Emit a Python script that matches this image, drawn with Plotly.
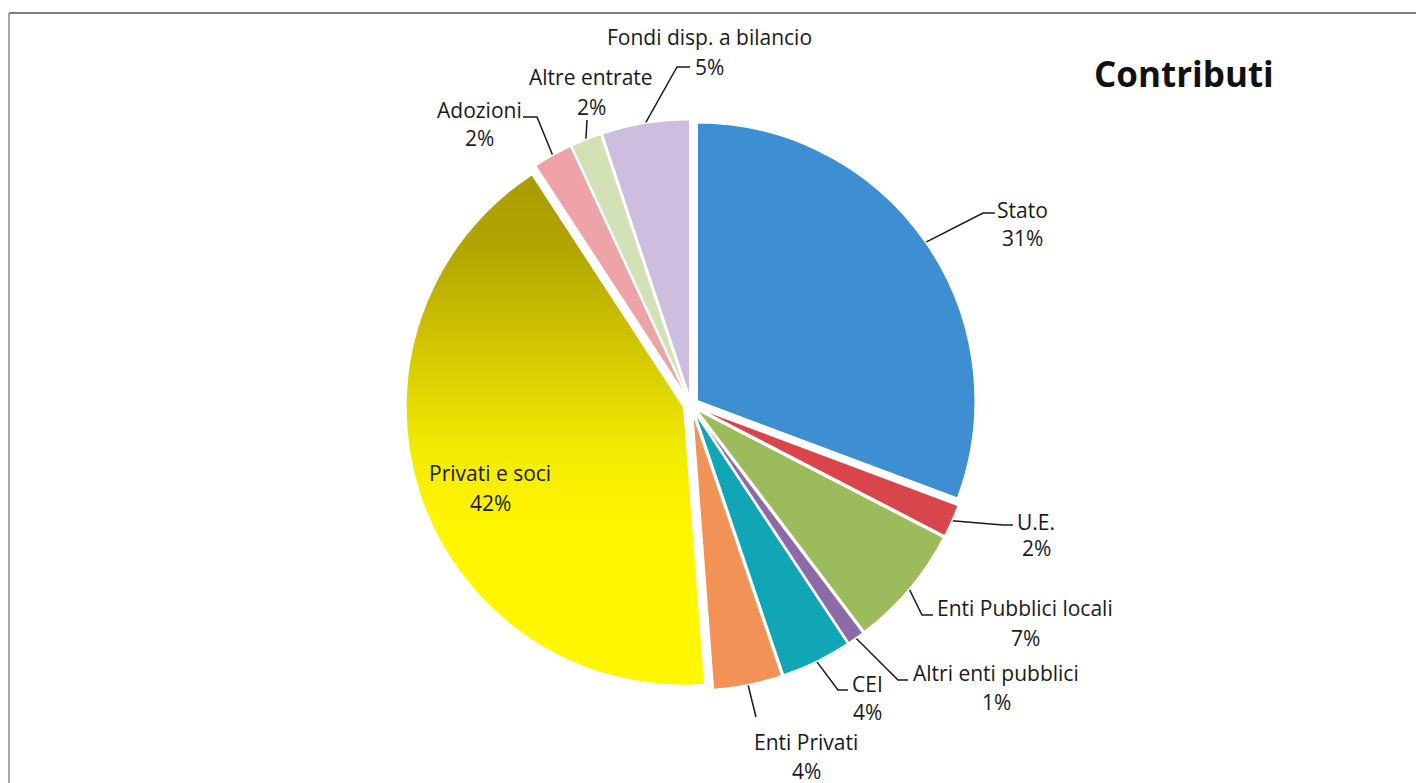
import math
import plotly.graph_objects as go

# ---------------- data ----------------
labels = ["Stato", "U.E.", "Enti Pubblici locali", "Altri enti pubblici", "CEI",
          "Enti Privati", "Privati e soci", "Adozioni", "Altre entrate",
          "Fondi disp. a bilancio"]
values = [30.7, 1.9, 7.1, 1.0, 4.1, 4.0, 42.0, 2.3, 1.8, 5.1]
slice_colors = ["#3d8fd1", "#d8464b", "#9cbb5c", "#8a6aa8", "#10a6b6",
                "#f39257", "rgba(0,0,0,0)", "#eea3a9", "#d3e1b6", "#cdbee0"]
gradient_slice = "Privati e soci"
gradient_scale = [[0.0, "#a89b00"], [0.15, "#b3a600"], [0.35, "#d4c800"],
                  [0.55, "#f3ec00"], [0.7, "#fff600"], [1.0, "#fff700"]]
title_text = "Contributi"

# ---------------- layout geometry (screen pixels) ----------------
W, H = 1424, 783
OFF = 8          # page body margin: figure starts 8px from the window corner
CX, CY = 691, 405
R = 278
PULL = 0.027
HALF = R * (1 + PULL)

# label placement: name -> (x, y of name line, y of percent line)
label_pos = {
    "Stato": (1022, 210, 238),
    "U.E.": (1036, 522, 548),
    "Enti Pubblici locali": (1025, 608, 638),
    "Altri enti pubblici": (996, 673, 702),
    "CEI": (867, 684, 712),
    "Enti Privati": (806, 742, 771),
    "Privati e soci": (490, 473, 503),
    "Adozioni": (479, 110, 138),
    "Altre entrate": (591, 77, 107),
    "Fondi disp. a bilancio": (709, 37, 67),
}
# leader line elbows after the anchor on the slice edge
leader_pts = {
    "Stato": [(983, 213), (995, 213)],
    "U.E.": [(1003, 525), (1013, 525)],
    "Enti Pubblici locali": [(922, 615), (933, 615)],
    "Altri enti pubblici": [(898, 680), (908, 680)],
    "CEI": [(838, 690), (848, 690)],
    "Enti Privati": [(756, 717)],
    "Adozioni": [(537, 117), (523, 117)],
    "Altre entrate": [(587, 120)],
    "Fondi disp. a bilancio": [(677, 67), (690, 67)],
}

total = sum(values)
fig = go.Figure()

# slice angles (degrees clockwise from 12 o'clock)
angles = []
cum = 0.0
for v in values:
    a0 = cum / total * 360
    cum += v
    a1 = cum / total * 360
    angles.append((a0, a1, (a0 + a1) / 2))

# gradient-filled slice (drawn under the transparent pie slice)
gi = labels.index(gradient_slice)
a0, a1, am = angles[gi]
ox = PULL * R * math.sin(math.radians(am))
oy = -PULL * R * math.cos(math.radians(am))
gx = [CX + ox]
gy = [CY + oy]
n = 120
for k in range(n + 1):
    t = math.radians(a0 + (a1 - a0) * k / n)
    gx.append(CX + ox + R * math.sin(t))
    gy.append(CY + oy - R * math.cos(t))
gx.append(CX + ox)
gy.append(CY + oy)
fig.add_trace(go.Scatter(
    x=gx, y=gy, mode="lines", fill="toself", line=dict(width=0),
    fillgradient=dict(type="vertical", colorscale=gradient_scale,
                      start=min(gy), stop=max(gy)),
    hoverinfo="skip", showlegend=False))

# leader lines
for i, name in enumerate(labels):
    if name not in leader_pts:
        continue
    am = math.radians(angles[i][2])
    ax = CX + HALF * math.sin(am)
    ay = CY - HALF * math.cos(am)
    pts = [(ax, ay)] + leader_pts[name]
    fig.add_trace(go.Scatter(
        x=[p[0] for p in pts], y=[p[1] for p in pts], mode="lines",
        line=dict(color="#1a1a1a", width=1.5), hoverinfo="skip",
        showlegend=False))

# the pie itself
fcx, fcy = CX - OFF, CY - OFF
fig.add_trace(go.Pie(
    labels=labels, values=values, sort=False, direction="clockwise",
    rotation=0, pull=[PULL] * len(values),
    marker=dict(colors=slice_colors, line=dict(color="white", width=1.5)),
    textinfo="none", showlegend=False,
    domain=dict(x=[(fcx - HALF - 1) / W, (fcx + HALF + 1) / W],
                y=[(H - fcy - HALF) / H, (H - fcy + HALF) / H])))

# labels
font = dict(family="Open Sans, DejaVu Sans, sans-serif", size=21, color="#1a1a1a")
annotations = []
for v, name in zip(values, labels):
    x, y1, y2 = label_pos[name]
    pct = f"{round(v / total * 100)}%"
    annotations.append(dict(x=x, y=y1, xref="x", yref="y", text=name,
                            showarrow=False, font=font,
                            xanchor="center", yanchor="middle"))
    annotations.append(dict(x=x, y=y2, xref="x", yref="y", text=pct,
                            showarrow=False, font=font,
                            xanchor="center", yanchor="middle"))
annotations.append(dict(x=1184, y=73, xref="x", yref="y",
                        text="<b>" + title_text + "</b>", showarrow=False,
                        font=dict(family="Open Sans, DejaVu Sans, sans-serif",
                                  size=35, color="#111111"),
                        xanchor="center", yanchor="middle"))

fig.update_layout(
    width=W, height=H,
    margin=dict(l=0, r=0, t=0, b=0),
    paper_bgcolor="white", plot_bgcolor="white",
    xaxis=dict(range=[OFF, W + OFF], visible=False, fixedrange=True),
    yaxis=dict(range=[H + OFF, OFF], visible=False, fixedrange=True),
    annotations=annotations,
    shapes=[
        dict(type="line", xref="x", yref="y", x0=9, y0=13, x1=W + 20, y1=13,
             line=dict(color="#555555", width=1.5)),
        dict(type="line", xref="x", yref="y", x0=9, y0=13, x1=9, y1=H + 20,
             line=dict(color="#888888", width=1.5)),
    ],
    showlegend=False,
)

fig.write_html("out.html")
